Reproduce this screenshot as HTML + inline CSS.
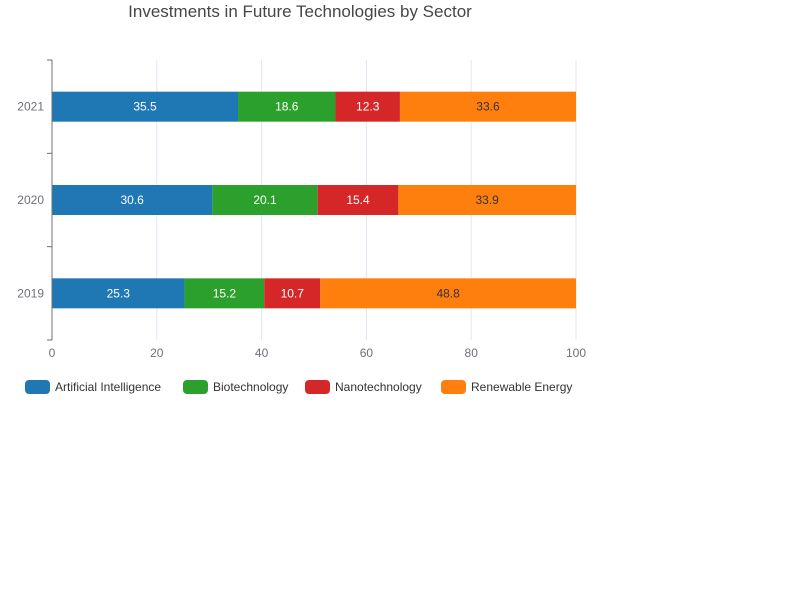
<!DOCTYPE html>
<html><head><meta charset="utf-8"><style>
body{margin:0;background:#fff;width:800px;height:600px;overflow:hidden;font-family:"Liberation Sans","Noto Sans CJK SC",sans-serif}
</style></head><body>
<svg id="chart" width="800" height="600" xmlns="http://www.w3.org/2000/svg">
<text x="300" y="17" text-anchor="middle" font-size="17" fill="#464646">Investments in Future Technologies by Sector</text>
<g id="grid"></g><g id="bars"></g><g id="axes"></g><g id="legend"></g>
</svg>
<script>
const categories = ["2019","2020","2021"];
const seriesNames = ["Artificial Intelligence","Biotechnology","Nanotechnology","Renewable Energy"];
const aiValues = [25.3,30.6,35.5];
const bioValues = [15.2,20.1,18.6];
const nanoValues = [10.7,15.4,12.3];
const renewValues = [48.8,33.9,33.6];
const xTicks = [0,20,40,60,80,100];
const colors = ["#1f77b4","#2ca02c","#d62728","#ff7f0e"];
const labelColors = ["#fff","#fff","#fff","#333"];
const series = [aiValues,bioValues,nanoValues,renewValues];
const NS="http://www.w3.org/2000/svg";
const x0=52,x1=576,yTop=60,yBot=340;
const band=(yBot-yTop)/categories.length;
const xs=v=>x0+(v/100)*(x1-x0);
const yc=i=>yBot-band*(i+0.5);
function mk(t,a,p){const e=document.createElementNS(NS,t);for(const k in a)e.setAttribute(k,a[k]);p.appendChild(e);return e;}
const grid=document.getElementById('grid'),bars=document.getElementById('bars'),axes=document.getElementById('axes'),leg=document.getElementById('legend');
xTicks.forEach(t=>{
  if(t>0){const g=mk('line',{x1:xs(t),x2:xs(t),y1:yTop,y2:yBot,stroke:'#e0e6f1'},grid);
  
  }
  const l=mk('text',{x:xs(t),y:yBot+17,'text-anchor':'middle','font-size':12,fill:'#6e7079'},axes);l.textContent=t;
  
  
});
const ax=mk('line',{x1:x0,x2:x0,y1:yTop,y2:yBot,stroke:'#6e7079'},axes);


for(let i=0;i<=categories.length;i++){const y=yTop+band*i;mk('line',{x1:x0-5,x2:x0,y1:y,y2:y,stroke:'#6e7079'},axes);}
categories.forEach((c,i)=>{
  const l=mk('text',{x:x0-8,y:yc(i)+4,'text-anchor':'end','font-size':12,fill:'#6e7079'},axes);l.textContent=c;
  
  
  let acc=0;
  series.forEach((s,j)=>{
    const v=s[i];const bx=xs(acc),bw=xs(acc+v)-bx;
    const r=mk('rect',{x:bx,y:yc(i)-15,width:bw,height:30,fill:colors[j]},bars);
    
    
    const t=mk('text',{x:bx+bw/2,y:yc(i)+4,'text-anchor':'middle','font-size':12,fill:labelColors[j]},bars);t.textContent=v;
    
    
    acc+=v;
  });
});
const legX=[25,183,305,441];
seriesNames.forEach((n,j)=>{
  const g=mk('g',{},leg);
  
  
  mk('rect',{x:legX[j],y:380,width:25,height:14,rx:4,fill:colors[j]},g);
  const t=mk('text',{x:legX[j]+30,y:391,'font-size':12,fill:'#333'},g);t.textContent=n;
});
</script>
</body></html>
